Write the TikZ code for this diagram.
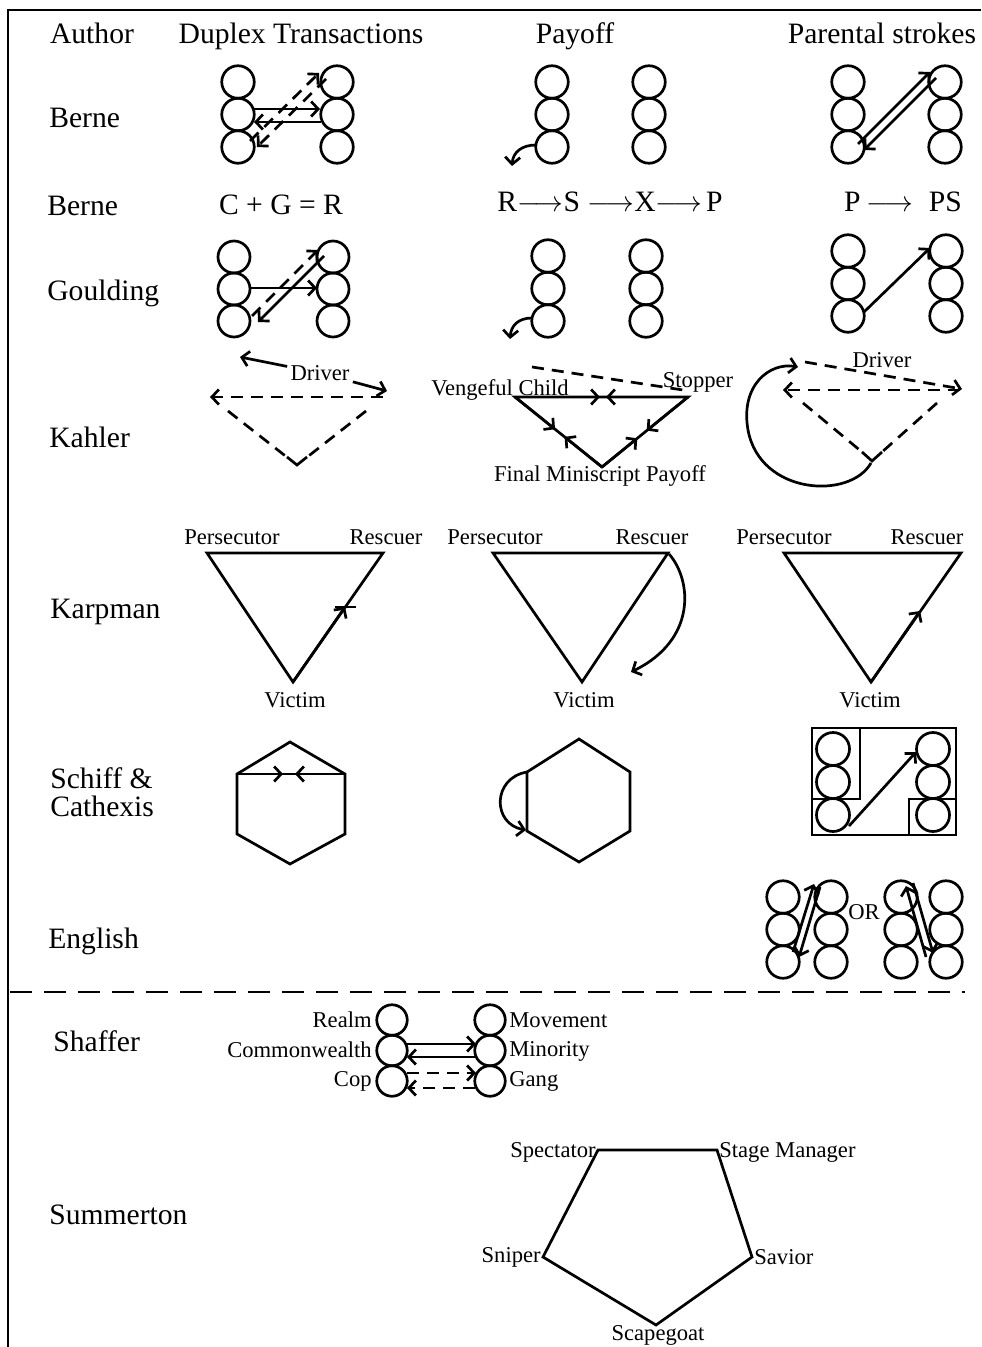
\documentclass[tikz,border=0pt]{standalone}
\usepackage{fontspec}
\setmainfont{Liberation Serif}
\usetikzlibrary{arrows.meta,calc}

% three ego-state circles stacked downwards
\newcommand{\egostack}[3]{%
  \foreach \k in {0,1,2}{\draw (#1,{#2+\k*#3}) circle[radius={#3/2}];}}

\begin{document}
\begin{tikzpicture}[x=0.5pt,y=-0.5pt,line width=1.35pt,
    lbl/.style={font=\fontsize{14.8}{17}\selectfont,inner sep=1pt},
    sm/.style={font=\fontsize{11.3}{13}\selectfont,inner sep=1pt},
    arr/.style={-{Straight Barb[length=3.5pt,width=7.5pt]}},
    dsh/.style={dash pattern=on 6pt off 4pt}]
    \useasboundingbox (0,0) rectangle (981,1347);
    \draw (8,1347) -- (8,10) -- (981,10);

    % headings
    \node[lbl,anchor=base] (hAuthor) at (92,44) {Author};
    \node[lbl,anchor=base] (hDuplex) at (301,44) {Duplex Transactions};
    \node[lbl,anchor=base] (hPayoff) at (575,44) {Payoff};
    \node[lbl,anchor=base] (hStrokes) at (882,44) {Parental strokes};

    % authors
    \node[lbl,anchor=west] (aBerne) at (46,118) {Berne};
    \node[lbl,anchor=west] (aBerneB) at (44,206) {Berne};
    \node[lbl,anchor=west] (aGoulding) at (44,293) {Goulding};
    \node[lbl,anchor=west] (aKahler) at (46,437) {Kahler};
    \node[lbl,anchor=west] (aKarpman) at (47,612) {Karpman};
    \node[lbl,anchor=west,align=left,font=\fontsize{14.8}{14}\selectfont] (aSchiff) at (47,792) {Schiff \&\\Cathexis};
    \node[lbl,anchor=west] (aEnglish) at (45,941) {English};
    \node[lbl,anchor=west] (aShaffer) at (50,1041) {Shaffer};
    \node[lbl,anchor=west] (aSummerton) at (46,1215) {Summerton};

    % Berne
    \egostack{238}{82}{32.5}
    \egostack{337}{82}{32.5}
    \draw[arr] (254,109) -- (320,109);
    \draw[arr] (321,122) -- (254,122);
    \draw[arr,dsh] (250,141) -- (319,73);
    \draw[arr,dsh] (326,79) -- (257,147);
    \egostack{552}{82}{32.5}
    \egostack{649}{82}{32.5}
    \draw[arr] (536,145) .. controls (522,145) and (513,152) .. (512,166);
    \egostack{848}{82}{32.5}
    \egostack{945}{82}{32.5}
    \draw[arr] (858,144) -- (930,72);
    \draw[arr] (936,78) -- (864,150);

    \node[lbl] (formula) at (281,205) {C + G = R};
    \node[lbl] (payoffs) at (610,202) {R$\longrightarrow$S\hspace{4pt}$\longrightarrow$X$\longrightarrow$\hspace{2pt}P};
    \node[lbl] (strokes) at (903,202) {P\hspace{3pt}$\longrightarrow$\hspace{8pt}PS};

    % Goulding
    \egostack{234}{257}{32}
    \egostack{333}{257}{32}
    \draw[arr] (250,288) -- (317,288);
    \draw[arr,dsh] (252,316) -- (318,250);
    \draw[arr] (324,256) -- (258,322);
    \egostack{548}{256}{32.5}
    \egostack{646}{256}{32.5}
    \draw[arr] (532,318) .. controls (518,318) and (511,326) .. (510,339);
    \egostack{848}{251}{32.5}
    \egostack{946}{251}{32.5}
    \draw[arr] (864,312) -- (930,248);

    % Kahler
    \coordinate (kdL) at (240,357);
    \coordinate (kdR) at (387,391);
    \node[sm] (kDriver) at (320,373) {Driver};
    \draw[arr] (kDriver) -- (kdL);
    \draw[arr] (kDriver) -- (kdR);
    \draw[arr,dsh] (383,397) -- (210,397);
    \draw[dsh] (228,411) -- (288,458);
    \draw[dsh] (366,411) -- (306,458);
    \draw (287,457) -- (297,465) -- (307,457);

    \node[sm] (vChild) at (500,390) {Vengeful Child};
    \node[sm] (vStop) at (698,382) {Stopper};
    \node[sm] (vFinal) at (600,476) {Final Miniscript Payoff};
    \coordinate (vcL) at (515,397);
    \coordinate (vcR) at (688,397);
    \coordinate (vcB) at (602,467);
    \draw[dsh] (532,367) -- (683,390);
    \draw (vcL) -- (vcR) -- (vcB) -- cycle;
    \draw[arr] (vcL) -- (600,397);
    \draw[arr] (vcR) -- (606,397);
    \draw[arr] (vcL) -- ($(vcL)!0.46!(vcB)$);
    \draw[arr] (vcB) -- ($(vcB)!0.43!(vcL)$);
    \draw[arr] (vcR) -- ($(vcR)!0.48!(vcB)$);
    \draw[arr] (vcB) -- ($(vcB)!0.41!(vcR)$);

    \node[sm] (kDriverB) at (882,360) {Driver};
    \draw[arr,dsh] (805,362) -- (962,389);
    \draw[arr,dsh] (960,390) -- (783,390);
    \draw[dsh] (803,403) -- (862,452);
    \draw[dsh] (937,403) -- (882,452);
    \draw (862,452) -- (872,461) -- (882,452);
    \draw[arr] (871,463) .. controls (850,500) and (760,495) .. (748,430)
        .. controls (740,385) and (770,362) .. (798,367);

    % Karpman
    \node[sm] (pA) at (232,537) {Persecutor};
    \node[sm] (rA) at (386,537) {Rescuer};
    \node[sm] (vA) at (295,700) {Victim};
    \draw (207,553) -- (383,553) -- (293,682) -- cycle;
    \draw[arr] (293,682) -- (345,607);
    \draw (335,607) -- (356,607);

    \node[sm] (pB) at (495,537) {Persecutor};
    \node[sm] (rB) at (652,537) {Rescuer};
    \node[sm] (vB) at (584,700) {Victim};
    \draw (493,553) -- (668,553) -- (582,682) -- cycle;
    \draw[arr] (669,554) .. controls (692,580) and (697,640) .. (631,672);

    \node[sm] (pC) at (784,537) {Persecutor};
    \node[sm] (rC) at (927,537) {Rescuer};
    \node[sm] (vC) at (870,700) {Victim};
    \draw (784,553) -- (961,553) -- (871,682) -- cycle;
    \draw[arr] (871,682) -- (920,611);

    % Schiff & Cathexis
    \draw (290,742) -- (345,774) -- (345,834) -- (290,864) -- (237,834) -- (237,774) -- cycle;
    \draw (237,774) -- (345,774);
    \draw[arr] (237,774) -- (283,774);
    \draw[arr] (345,774) -- (295,774);

    \draw (579,739) -- (630,772) -- (630,831) -- (579,862) -- (527,831) -- (527,772) -- cycle;
    \draw[arr] (527,772) .. controls (492,778) and (492,824) .. (526,830);

    \draw (812,728) rectangle (956,835);
    \draw (860,728) -- (860,799) -- (812,799);
    \draw (956,799) -- (909,799) -- (909,835);
    \egostack{833}{749}{33}
    \egostack{933}{749}{33}
    \draw[arr] (849,826) -- (916,752);

    % English
    \egostack{783}{897}{32.5}
    \egostack{831}{897}{32.5}
    \egostack{901}{897}{32.5}
    \egostack{946}{897}{32.5}
    \node[sm] (eOr) at (864,912) {OR};
    \draw[arr] (793,952) -- (814,884);
    \draw[arr] (820,887) -- (799,957);
    \draw[arr] (926,957) -- (906,886);
    \draw[arr] (913,883) -- (933,953);

    \draw[dash pattern=on 11pt off 6pt] (10,992) -- (965,992);

    % Shaffer
    \egostack{392}{1020}{30.5}
    \egostack{490}{1020}{30.5}
    \node[sm,anchor=east] (sRealm) at (375,1020) {Realm};
    \node[sm,anchor=east] (sCommon) at (375,1050) {Commonwealth};
    \node[sm,anchor=east] (sCop) at (375,1081) {Cop};
    \node[sm,anchor=west] (sMove) at (506,1020) {Movement};
    \node[sm,anchor=west] (sMinor) at (506,1051) {Minority};
    \node[sm,anchor=west] (sGang) at (506,1081) {Gang};
    \draw[arr] (407,1044) -- (476,1044);
    \draw[arr] (475,1057) -- (407,1057);
    \draw[arr,dsh] (407,1073) -- (476,1073);
    \draw[arr,dsh] (475,1088) -- (407,1088);

    % Summerton
    \draw (598,1150) -- (717,1150) -- (752,1257) -- (656,1325) -- (543,1257) -- cycle;
    \node[sm,anchor=east] (tSpect) at (599,1152) {Spectator};
    \node[sm,anchor=west] (tStage) at (716,1152) {Stage Manager};
    \node[sm,anchor=east] (tSniper) at (544,1257) {Sniper};
    \node[sm,anchor=west] (tSavior) at (751,1257) {Savior};
    \node[sm] (tScape) at (658,1335) {Scapegoat};
\end{tikzpicture}
\end{document}
